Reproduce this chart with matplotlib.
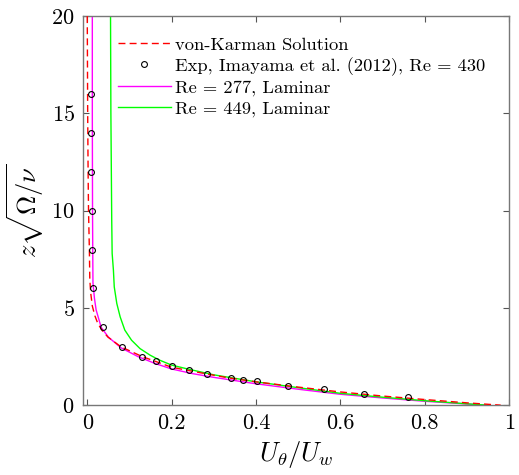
import matplotlib.pyplot as plt

plt.rcParams.update(
    {
        "font.family": "cmr10",
        "mathtext.fontset": "cm",
        "axes.formatter.use_mathtext": True,
        "axes.unicode_minus": False,
    }
)

# von Karman solution
vk_u = [0.0, 0.001, 0.002, 0.003, 0.005, 0.006, 0.008, 0.012, 0.018, 0.025, 0.035, 0.049,
        0.08, 0.13, 0.2, 0.26, 0.33, 0.4, 0.5, 0.6, 0.7, 0.8, 0.9, 0.98]
vk_z = [20.0, 15.0, 12.0, 10.0, 8.0, 6.5, 5.8, 5.1, 4.6, 4.2, 3.85, 3.5,
        3.0, 2.5, 1.95, 1.7, 1.42, 1.2, 0.93, 0.68, 0.47, 0.29, 0.12, 0.0]

# Imayama et al. (2012) experiment, Re = 430
exp_u = [0.010, 0.010, 0.010, 0.011, 0.012, 0.014, 0.037, 0.083, 0.130, 0.163,
         0.201, 0.241, 0.285, 0.340, 0.368, 0.402, 0.476, 0.560, 0.657, 0.761]
exp_z = [16.0, 14.0, 12.0, 10.0, 8.0, 6.0, 4.0, 3.0, 2.48, 2.25,
         2.0, 1.8, 1.59, 1.40, 1.29, 1.22, 1.0, 0.83, 0.59, 0.42]

# Re = 277, laminar
re277_u = [0.012, 0.012, 0.0125, 0.013, 0.0135, 0.017, 0.021, 0.033, 0.05, 0.08,
           0.12, 0.16, 0.2, 0.25, 0.3, 0.4, 0.5, 0.6, 0.7, 0.8, 0.9, 0.94]
re277_z = [20.0, 15.0, 10.0, 8.0, 6.3, 5.5, 4.9, 4.0, 3.5, 2.95,
           2.5, 2.15, 1.86, 1.62, 1.43, 1.1, 0.82, 0.56, 0.37, 0.2, 0.06, 0.0]

# Re = 449, laminar
re449_u = [0.055, 0.056, 0.058, 0.059, 0.062, 0.064, 0.070, 0.078, 0.089, 0.105,
           0.125, 0.149, 0.172, 0.200, 0.240, 0.3, 0.4, 0.5, 0.6, 0.7, 0.8, 0.9, 0.95]
re449_z = [21.0, 15.0, 9.5, 7.8, 6.94, 6.08, 5.23, 4.54, 3.86, 3.34,
           2.91, 2.57, 2.31, 2.06, 1.85, 1.56, 1.2, 0.9, 0.61, 0.41, 0.23, 0.07, 0.0]

fig = plt.figure(figsize=(5.19, 4.75), dpi=100)
ax = fig.add_axes([0.160, 0.147, 0.821, 0.819])

ax.plot(vk_u, vk_z, linestyle=(0, (5, 3)), color="#ff0000", linewidth=1.0,
        label="von-Karman Solution", zorder=3)
ax.plot(exp_u, exp_z, linestyle="none", marker="o", markersize=4.2,
        markerfacecolor="none", markeredgecolor="black", markeredgewidth=0.8,
        label="Exp, Imayama et al. (2012), Re = 430", zorder=4)
ax.plot(re277_u, re277_z, color="#ff00ff", linewidth=1.0,
        label="Re = 277, Laminar", zorder=2)
ax.plot(re449_u, re449_z, color="#00ff00", linewidth=1.0,
        label="Re = 449, Laminar", zorder=2)

ax.set_xlim(-0.01, 1.0)
ax.set_ylim(0, 20)
ax.set_xticks([0, 0.2, 0.4, 0.6, 0.8, 1])
ax.set_xticklabels(["0", "0.2", "0.4", "0.6", "0.8", "1"])
ax.set_yticks([0, 5, 10, 15, 20])

ax.set_xlabel(r"$U_\theta/U_w$", fontsize=19, labelpad=4)
ax.set_ylabel(r"$z\sqrt{\Omega/\nu}$", fontsize=19, labelpad=4)

ax.tick_params(direction="in", length=4, width=0.8, top=True, right=True,
               labelsize=16, color="#555555", pad=6)
for s in ax.spines.values():
    s.set_color("#777777")
    s.set_linewidth(1.0)

ax.legend(loc="upper left", bbox_to_anchor=(0.055, 0.975), frameon=False,
          fontsize=13.3, handlelength=2.9, handletextpad=0.2, labelspacing=0.22,
          borderaxespad=0.2)

fig.savefig("out.png", dpi=100)
